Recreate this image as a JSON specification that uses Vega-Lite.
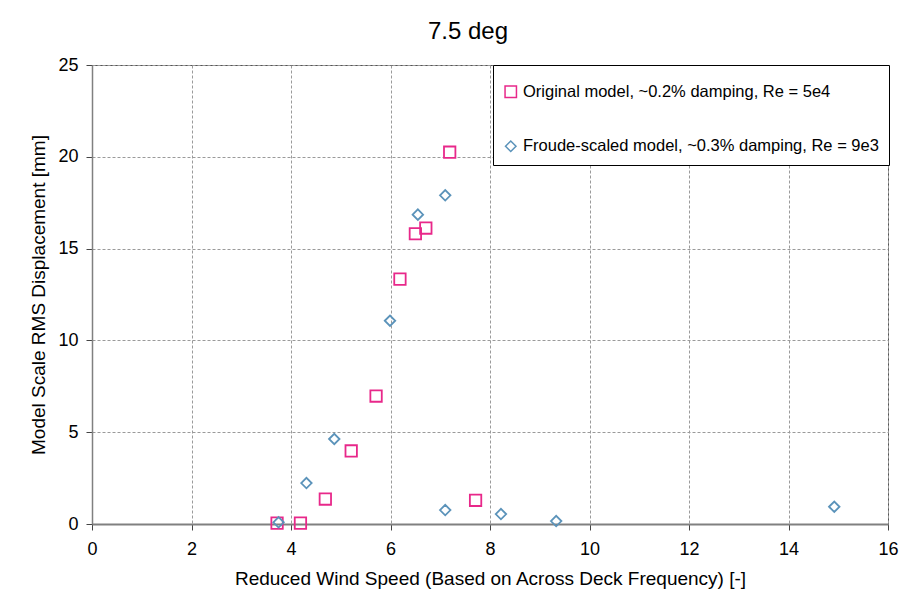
{
  "$schema": "https://vega.github.io/schema/vega-lite/v6.json",
  "width": 796,
  "height": 459,
  "autosize": {"type": "none"},
  "padding": {"left": 92, "top": 65, "right": 11, "bottom": 82},
  "background": "white",
  "title": {
    "text": "7.5 deg",
    "fontSize": 24,
    "font": "Liberation Sans",
    "fontWeight": "normal",
    "color": "#000",
    "anchor": "middle",
    "dx": -22,
    "offset": 12
  },
  "data": {
    "values": [
      {"speed": 3.72, "disp": 0.05, "series": "Original model, ~0.2% damping, Re = 5e4"},
      {"speed": 4.19, "disp": 0.05, "series": "Original model, ~0.2% damping, Re = 5e4"},
      {"speed": 4.69, "disp": 1.36, "series": "Original model, ~0.2% damping, Re = 5e4"},
      {"speed": 5.21, "disp": 3.98, "series": "Original model, ~0.2% damping, Re = 5e4"},
      {"speed": 5.71, "disp": 6.97, "series": "Original model, ~0.2% damping, Re = 5e4"},
      {"speed": 6.19, "disp": 13.34, "series": "Original model, ~0.2% damping, Re = 5e4"},
      {"speed": 6.5, "disp": 15.81, "series": "Original model, ~0.2% damping, Re = 5e4"},
      {"speed": 6.71, "disp": 16.12, "series": "Original model, ~0.2% damping, Re = 5e4"},
      {"speed": 7.19, "disp": 20.25, "series": "Original model, ~0.2% damping, Re = 5e4"},
      {"speed": 7.71, "disp": 1.29, "series": "Original model, ~0.2% damping, Re = 5e4"},
      {"speed": 3.75, "disp": 0.09, "series": "Froude-scaled model, ~0.3% damping, Re = 9e3"},
      {"speed": 4.31, "disp": 2.23, "series": "Froude-scaled model, ~0.3% damping, Re = 9e3"},
      {"speed": 4.87, "disp": 4.63, "series": "Froude-scaled model, ~0.3% damping, Re = 9e3"},
      {"speed": 5.99, "disp": 11.07, "series": "Froude-scaled model, ~0.3% damping, Re = 9e3"},
      {"speed": 6.55, "disp": 16.85, "series": "Froude-scaled model, ~0.3% damping, Re = 9e3"},
      {"speed": 7.1, "disp": 17.9, "series": "Froude-scaled model, ~0.3% damping, Re = 9e3"},
      {"speed": 7.1, "disp": 0.76, "series": "Froude-scaled model, ~0.3% damping, Re = 9e3"},
      {"speed": 8.22, "disp": 0.54, "series": "Froude-scaled model, ~0.3% damping, Re = 9e3"},
      {"speed": 9.33, "disp": 0.16, "series": "Froude-scaled model, ~0.3% damping, Re = 9e3"},
      {"speed": 14.92, "disp": 0.94, "series": "Froude-scaled model, ~0.3% damping, Re = 9e3"}
    ]
  },
  "mark": {"type": "point", "filled": false, "strokeWidth": 1.8, "opacity": 1},
  "encoding": {
    "x": {
      "field": "speed",
      "type": "quantitative",
      "scale": {"domain": [0, 16], "nice": false, "zero": false},
      "axis": {
        "title": "Reduced Wind Speed (Based on Across Deck Frequency) [-]",
        "values": [0, 2, 4, 6, 8, 10, 12, 14, 16],
        "domainWidth": 2,
        "labelPadding": 10,
        "labelFlush": false,
        "titlePadding": 11
      }
    },
    "y": {
      "field": "disp",
      "type": "quantitative",
      "scale": {"domain": [0, 25], "nice": false},
      "axis": {
        "title": "Model Scale RMS Displacement [mm]",
        "values": [0, 5, 10, 15, 20, 25],
        "domainWidth": 1.5,
        "labelPadding": 8,
        "labelFlush": false,
        "titlePadding": 9
      }
    },
    "color": {
      "field": "series",
      "type": "nominal",
      "scale": {
        "domain": ["Original model, ~0.2% damping, Re = 5e4", "Froude-scaled model, ~0.3% damping, Re = 9e3"],
        "range": ["#E8288A", "#5B93BA"]
      },
      "legend": {
        "title": " ",
        "titleFontSize": 9,
        "titlePadding": 0,
        "orient": "none",
        "legendX": 401,
        "legendY": 0,
        "direction": "vertical",
        "strokeColor": "#000",
        "fillColor": "#fff",
        "padding": 9.5,
        "rowPadding": 37.5,
        "labelFontSize": 16.5,
        "labelFont": "Liberation Sans",
        "labelColor": "#000",
        "labelLimit": 500,
        "labelOffset": 4,
        "symbolSize": 80,
        "symbolStrokeWidth": 1.5
      }
    },
    "shape": {
      "field": "series",
      "type": "nominal",
      "scale": {
        "domain": ["Original model, ~0.2% damping, Re = 5e4", "Froude-scaled model, ~0.3% damping, Re = 9e3"],
        "range": ["square", "diamond"]
      }
    },
    "size": {
      "field": "series",
      "type": "nominal",
      "scale": {
        "domain": ["Original model, ~0.2% damping, Re = 5e4", "Froude-scaled model, ~0.3% damping, Re = 9e3"],
        "range": [130, 110]
      },
      "legend": null
    }
  },
  "config": {
    "view": {"stroke": "#555", "strokeWidth": 1},
    "axis": {
      "domainColor": "#808080",
      "tickColor": "#444",
      "tickSize": 6,
      "labelFont": "Liberation Sans",
      "labelFontSize": 18,
      "labelColor": "#000",
      "titleFont": "Liberation Sans",
      "titleFontSize": 19,
      "titleFontWeight": "normal",
      "titleColor": "#000",
      "gridColor": "#9a9a9a",
      "gridDash": [3, 2],
      "gridWidth": 1
    }
  }
}
